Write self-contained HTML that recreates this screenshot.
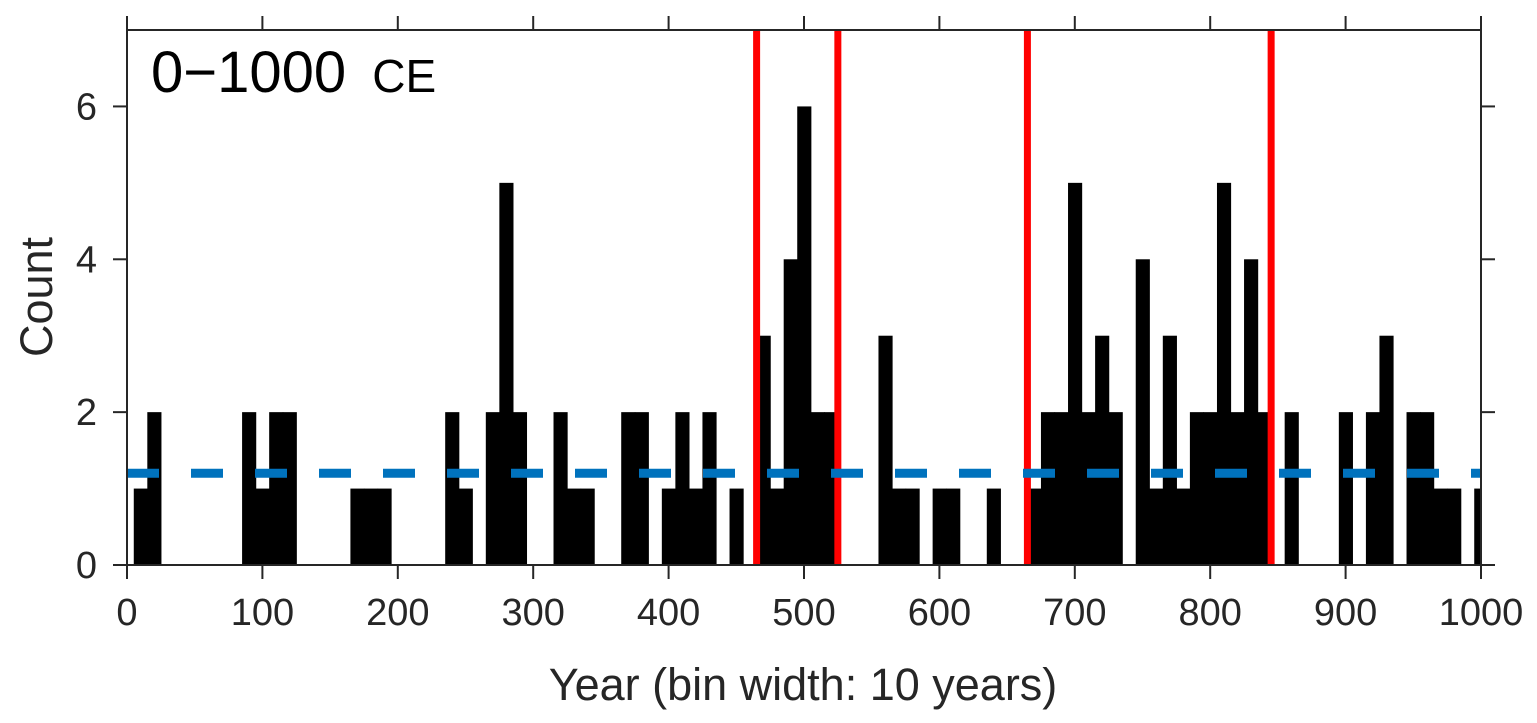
<!DOCTYPE html>
<html><head><meta charset="utf-8"><style>
body{margin:0;background:#fff}
svg{display:block;font-family:"Liberation Sans",Arial,sans-serif}
</style></head><body>
<svg id="chart" width="1537" height="723" viewBox="0 0 1537 723">
<g id="bars"></g>
<g id="reds"></g>
<line id="mean" stroke="#0072BD" stroke-width="9" stroke-dasharray="32,32"/>
<g id="axes"></g>
<text x="151" y="92" font-size="58" fill="#000">0−1000 <tspan font-size="46" dx="10">CE</tspan></text>
<text transform="translate(52,297) rotate(-90)" text-anchor="middle" font-size="45" fill="#262626">Count</text>
<text x="803" y="700" text-anchor="middle" font-size="45" fill="#262626">Year (bin width: 10 years)</text>
</svg>
<script>
const binCenters=[10,20,90,100,110,120,170,180,190,240,250,270,280,290,320,330,340,370,380,400,410,420,430,450,470,480,490,500,510,520,560,570,580,600,610,640,670,680,690,700,710,720,730,750,760,770,780,790,800,810,820,830,840,860,900,920,930,950,960,970,980,1000];
const counts=[1,2,2,1,2,2,1,1,1,2,1,2,5,2,2,1,1,2,2,1,2,1,2,1,3,1,4,6,2,2,3,1,1,1,1,1,1,2,2,5,2,3,2,4,1,3,1,2,2,5,2,4,2,2,2,2,3,2,2,1,1,1];
const eventYears=[465,525,665,845];
const meanCount=[1.2];
const xTicks=[0,100,200,300,400,500,600,700,800,900,1000];
const yTicks=[0,2,4,6];
const binWidth=10;
const L=127,R=1481,T=30,B=565,ns="http://www.w3.org/2000/svg";
const X=v=>L+(v/1000)*(R-L), Y=v=>B-(v/7)*(B-T);
function mk(tag,attrs,parent){const e=document.createElementNS(ns,tag);for(const k in attrs)e.setAttribute(k,attrs[k]);parent.appendChild(e);return e;}
const bars=document.getElementById('bars');
binCenters.forEach((c,i)=>{
 const x0=X(c-binWidth/2), x1=Math.min(X(c+binWidth/2),R);
 const r=mk('rect',{x:x0,y:Y(counts[i]),width:x1-x0+0.6,height:B-Y(counts[i]),fill:'#000'},bars);
 
 
});
const reds=document.getElementById('reds');
eventYears.forEach(y=>{
 const l=mk('line',{x1:X(y),x2:X(y),y1:T,y2:B,stroke:'#FF0000','stroke-width':7},reds);
 
 
});
const m=document.getElementById('mean');
m.setAttribute('x1',L);m.setAttribute('x2',R);m.setAttribute('y1',Y(meanCount[0]));m.setAttribute('y2',Y(meanCount[0]));
const ax=document.getElementById('axes');
mk('rect',{x:L,y:T,width:R-L,height:B-T,fill:'none',stroke:'#262626','stroke-width':2},ax);
xTicks.forEach(t=>{
 mk('line',{x1:X(t),x2:X(t),y1:B,y2:B+14,stroke:'#262626','stroke-width':2},ax);
 mk('line',{x1:X(t),x2:X(t),y1:T,y2:T-14,stroke:'#262626','stroke-width':2},ax);
 const tx=mk('text',{x:X(t),y:B+60,'text-anchor':'middle','font-size':38,fill:'#262626'},ax);
 tx.textContent=t;
 
 
});
yTicks.forEach(t=>{
 mk('line',{x1:L,x2:L-14,y1:Y(t),y2:Y(t),stroke:'#262626','stroke-width':2},ax);
 mk('line',{x1:R,x2:R+14,y1:Y(t),y2:Y(t),stroke:'#262626','stroke-width':2},ax);
 const tx=mk('text',{x:L-30,y:Y(t)+13,'text-anchor':'end','font-size':38,fill:'#262626'},ax);
 tx.textContent=t;
 
 
});
</script>
</body></html>
